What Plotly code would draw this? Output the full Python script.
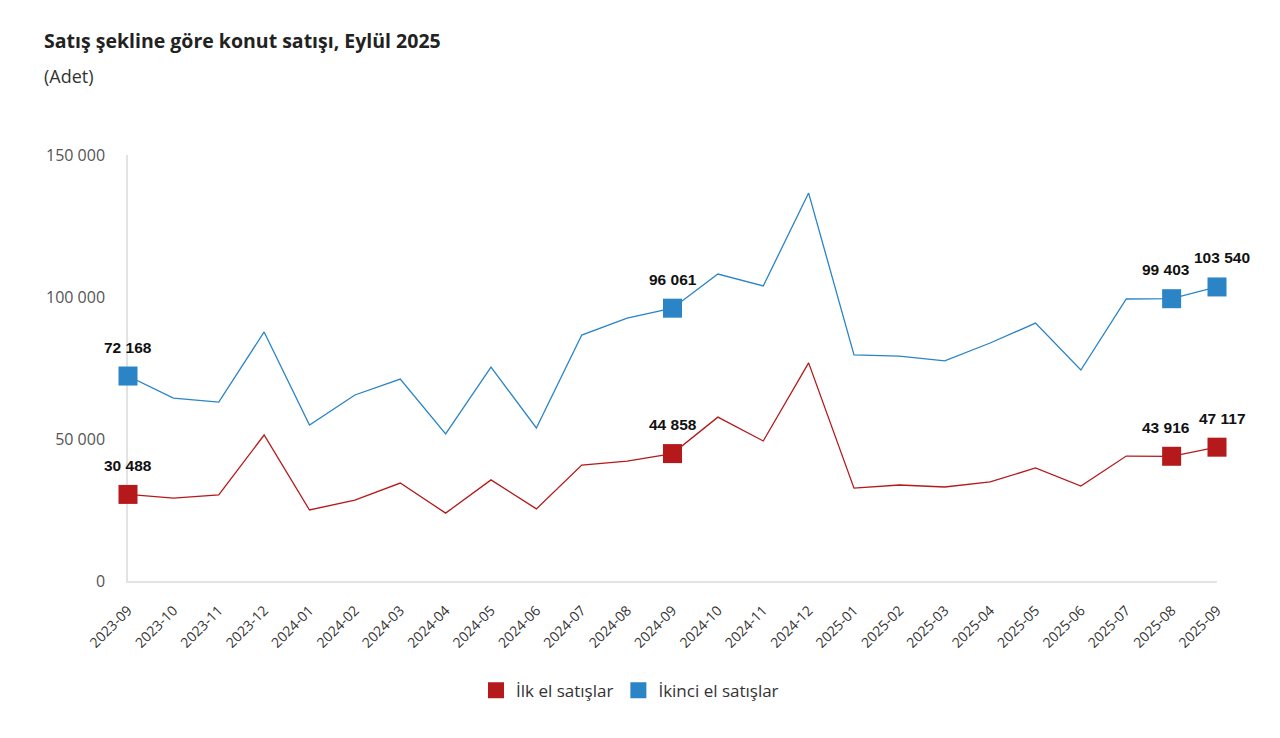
import plotly.graph_objects as go

months = ["2023-09","2023-10","2023-11","2023-12","2024-01","2024-02","2024-03","2024-04",
          "2024-05","2024-06","2024-07","2024-08","2024-09","2024-10","2024-11","2024-12",
          "2025-01","2025-02","2025-03","2025-04","2025-05","2025-06","2025-07","2025-08","2025-09"]
ilk_el = [30488, 29200, 30300, 51400, 25000, 28500, 34500, 23900, 35600, 25400, 40800, 42200,
          44858, 57700, 49300, 76800, 32700, 33800, 33100, 34900, 39800, 33400, 44000, 43916, 47117]
ikinci_el = [72168, 64400, 63000, 87700, 54900, 65500, 71100, 51800, 75300, 53900, 86600, 92600,
             96061, 108100, 103900, 136600, 79600, 79200, 77500, 83800, 90800, 74300, 99300, 99403, 103540]
labeled = ["2023-09", "2024-09", "2025-08", "2025-09"]
y_ticks = [0, 50000, 100000, 150000]

RED = "#b5191b"
BLUE = "#2a84c6"

def fmt(v):
    return f"{v:,}".replace(",", " ")

fig = go.Figure()
for name, vals, col in [("İlk el satışlar", ilk_el, RED), ("İkinci el satışlar", ikinci_el, BLUE)]:
    sizes = [19 if m in labeled else 0 for m in months]
    fig.add_trace(go.Scatter(
        x=months, y=vals, mode="lines+markers", name=name, showlegend=False,
        line=dict(color=col, width=1.3),
        marker=dict(symbol="square", size=sizes, color=col, opacity=1, line=dict(width=0)),
        cliponaxis=False, hoverinfo="x+y"))
    fig.add_trace(go.Scatter(
        x=[None], y=[None], mode="markers", name=name, showlegend=True,
        marker=dict(symbol="square", size=19, color=col, opacity=1)))
    for m, v in zip(months, vals):
        if m in labeled:
            xs = 0
            if m == "2025-08":
                xs = -6
            elif m == "2025-09":
                xs = 5
            fig.add_annotation(x=m, y=v, text="<b>" + fmt(v) + "</b>", showarrow=False,
                               yshift=29, xshift=xs,
                               font=dict(family="Liberation Sans, Arial", size=15.5, color="#111"))

fig.add_annotation(xref="paper", yref="paper", x=-86/1089, y=1 + (155 - 40) / 426,
                   xanchor="left", yanchor="middle", showarrow=False,
                   text="<b>Satış şekline göre konut satışı, Eylül 2025</b>",
                   font=dict(family="Open Sans, Noto Sans, sans-serif", size=19.5, color="#222"))
fig.add_annotation(xref="paper", yref="paper", x=-86/1089, y=1 + (155 - 76) / 426,
                   xanchor="left", yanchor="middle", showarrow=False,
                   text="(Adet)",
                   font=dict(family="Open Sans, Noto Sans, sans-serif", size=18, color="#333"))

fig.update_layout(
    width=1280, height=738,
    paper_bgcolor="white", plot_bgcolor="white",
    separators=", ",
    margin=dict(l=120, r=71, t=147, b=165),
    font=dict(family="Open Sans, Noto Sans, sans-serif", size=13, color="#444"),
    xaxis=dict(type="category", range=[0, 24], showgrid=False, showline=True, linecolor="#e3e3e3",
               linewidth=1.5, ticks="outside", ticklen=14, tickcolor="white", tickangle=-45,
               automargin=False, layer="below traces", tickfont=dict(size=14, color="#333")),
    yaxis=dict(range=[0, 150000], tickvals=y_ticks, tickformat=",d", showgrid=False,
               showline=True, linecolor="#e3e3e3", linewidth=1.5, zeroline=False,
               ticks="outside", ticklen=18, tickcolor="white", automargin=False,
               layer="below traces", tickfont=dict(size=16, color="#555")),
    legend=dict(orientation="h", x=(630 - 128) / 1089, xanchor="center", y=-0.215, yanchor="top",
                font=dict(size=17, color="#333"), itemsizing="trace"),
)

fig.write_html("out.html")
